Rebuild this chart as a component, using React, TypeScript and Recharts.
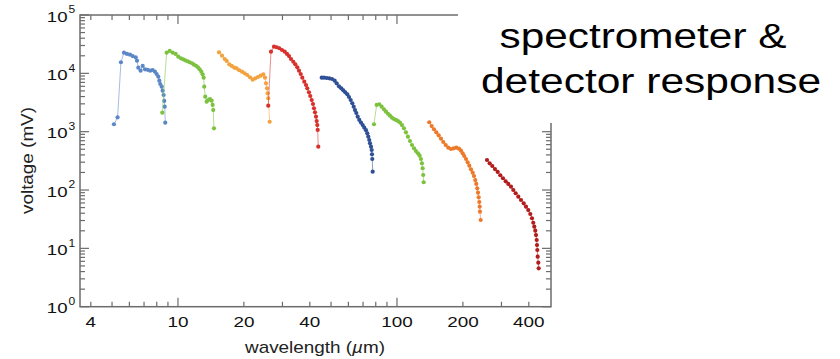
import { ScatterChart, Scatter, XAxis, YAxis } from 'recharts';

// measured response of each grating / detector band: [wavelength (µm), voltage (mV)]
const band1: [number, number][] = [
  [5.10, 1340], [5.30, 1760], [5.49, 15500], [5.67, 22600], [5.85, 21500], [6.04, 20900],
  [6.21, 19800], [6.41, 18800], [6.50, 16500], [6.59, 12500], [6.75, 11100], [6.90, 13400],
  [7.07, 11700], [7.27, 11500], [7.47, 11100], [7.66, 11400], [7.85, 10700], [7.99, 9740],
  [8.13, 8760], [8.22, 7480], [8.30, 6570], [8.43, 5900], [8.51, 5040], [8.60, 4250],
  [8.66, 3360], [8.70, 2680], [8.75, 1425],
];
const band2: [number, number][] = [
  [8.48, 2115], [8.88, 22600], [9.17, 24200], [9.46, 22600], [9.76, 21500], [10.03, 19300],
  [10.32, 18100], [10.57, 17400], [10.80, 16700], [11.07, 16100], [11.31, 15500], [11.59, 14900],
  [11.83, 14100], [12.09, 13500], [12.34, 12700], [12.56, 11700], [12.78, 10700], [12.96, 9630],
  [13.10, 8420], [13.18, 5900], [13.32, 3980], [13.52, 3270], [13.75, 3490], [14.00, 3630],
  [14.25, 3400], [14.40, 2870], [14.49, 2350], [14.60, 1140],
];
const band3: [number, number][] = [
  [15.39, 22900], [15.89, 20100], [16.34, 17600], [16.69, 16300], [17.15, 14300], [17.59, 13400],
  [18.08, 12500], [18.54, 12200], [19.05, 11300], [19.60, 10700], [20.16, 10000], [20.72, 9370],
  [21.32, 8550], [21.93, 7780], [22.54, 8220], [23.19, 8660], [23.86, 9110], [24.52, 9630],
  [24.97, 8420], [25.23, 6750], [25.50, 5540], [25.68, 4550], [25.84, 3740], [26.22, 1480],
];
const band4: [number, number][] = [
  [25.84, 2790], [26.59, 23500], [27.45, 28600], [28.24, 28000], [29.02, 26900], [29.86, 25100],
  [30.72, 23500], [31.47, 21500], [32.14, 19800], [32.81, 17600], [33.62, 15800], [34.33, 14300],
  [35.06, 12700], [35.70, 11100], [36.34, 9740], [36.96, 8420], [37.74, 7190], [38.42, 6310],
  [38.94, 5540], [39.65, 4730], [40.19, 4090], [40.79, 3490], [41.35, 2980], [41.79, 2520],
  [42.23, 2150], [42.68, 1810], [42.99, 1520], [43.26, 1300], [43.45, 1070], [43.72, 553],
];
const band5: [number, number][] = [
  [45.32, 8420], [46.42, 8420], [47.75, 8320], [49.08, 8220], [50.49, 8000], [51.94, 7480],
  [53.05, 6750], [54.35, 6000], [55.68, 5540], [56.86, 5120], [58.07, 4730], [59.31, 4370],
  [60.38, 3930], [61.47, 3490], [62.51, 3070], [63.44, 2680], [64.31, 2350], [65.20, 2090],
  [66.16, 1810], [67.29, 1590], [68.50, 1430], [69.74, 1300], [70.92, 1170], [72.19, 1060],
  [73.19, 938], [73.96, 820], [74.74, 720], [75.30, 632], [76.10, 553], [76.66, 485],
  [76.90, 410], [77.14, 340], [77.46, 206],
];
const band6: [number, number][] = [
  [78.52, 1340], [80.78, 2870], [83.02, 2950], [85.13, 2680], [87.21, 2420], [89.07, 2200],
  [90.96, 2030], [92.90, 1880], [94.88, 1740], [96.89, 1650], [98.95, 1590], [101.1, 1520],
  [103.2, 1430], [105.4, 1300], [107.6, 1140], [109.9, 976], [112.2, 820], [114.7, 692],
  [117.1, 591], [119.6, 519], [122.1, 466], [124.7, 426], [126.9, 388], [128.7, 340],
  [130.0, 287], [131.0, 236], [131.8, 181], [132.4, 136],
];
const band7: [number, number][] = [
  [140.4, 1450], [144.0, 1250], [147.5, 1100], [151.2, 976], [155.0, 867], [158.8, 758],
  [162.7, 666], [166.9, 591], [171.5, 531], [176.5, 505], [181.5, 519], [186.6, 531],
  [191.9, 511], [196.0, 472], [199.5, 426], [202.9, 383], [206.6, 340], [210.3, 299],
  [213.9, 261], [217.7, 226], [221.7, 198], [224.7, 174], [227.8, 148], [230.2, 127],
  [232.6, 107], [234.4, 90], [236.1, 75], [237.6, 62.3], [238.6, 51.8], [239.3, 42.5],
  [241.1, 30.6],
];
const band8: [number, number][] = [
  [257.6, 327], [265.0, 287], [272.4, 258], [280.2, 229], [288.3, 204], [296.3, 179],
  [304.8, 159], [313.6, 141], [322.3, 127], [331.6, 114], [339.8, 100], [348.3, 88],
  [358.1, 76.8], [368.4, 67.4], [379.0, 59.2], [388.2, 51.8], [397.7, 45.4], [406.2, 38.8],
  [413.5, 32.8], [419.2, 27.5], [423.6, 23.5], [428.1, 20.1], [431.3, 16.9], [434.5, 13.9],
  [435.9, 11.4], [437.3, 9.37], [439.1, 7.2], [441.9, 5.68], [443.7, 4.55],
];

const bands = [band1, band2, band3, band4, band5, band6, band7, band8];
const bandColors = ['#5b87c6', '#7cc23f', '#f2a23e', '#d8302b', '#2f5096', '#7cc23f', '#ec7a2a', '#b31c1c'];

const xTicks = [4, 5, 6, 7, 8, 9, 10, 20, 30, 40, 50, 60, 70, 80, 90, 100, 200, 300, 400];
const xLabels = [4, 10, 20, 40, 100, 200, 400];
const yDecades = [0, 1, 2, 3, 4, 5];
const yMinor = [2, 3, 4, 5, 6, 7, 8, 9];
const yTicks = yDecades.flatMap((e) =>
  e < 5 ? [10 ** e, ...yMinor.map((m) => m * 10 ** e)] : [10 ** e]
);

const W = 840;
const H = 359;
const LEFT = 80;
const RIGHT = 551;
const TOP = 15;
const BOTTOM = 306.7;
const AXIS = '#6c6c6c';
const FONT = '"Liberation Sans", Arial, Helvetica, sans-serif';

const isMajorX = (v: number) => v === 10 || v === 100;
const isDecade = (v: number) => Math.abs(Math.log10(v) - Math.round(Math.log10(v))) < 1e-9;

// x ticks point inward from both the bottom and the top frame edge
function XTick({ x, payload }: any) {
  const v = payload.value;
  const len = isMajorX(v) ? 9 : 5;
  return (
    <g>
      <line x1={x} x2={x} y1={BOTTOM} y2={BOTTOM - len} stroke={AXIS} strokeWidth={1.2} />
      <line x1={x} x2={x} y1={TOP} y2={TOP + len} stroke={AXIS} strokeWidth={1.2} />
      {xLabels.includes(v) && (
        <text
          transform={`translate(${x} ${BOTTOM + 20}) scale(1.22 1)`}
          textAnchor="middle"
          fontFamily={FONT}
          fontSize={15.5}
          fill="#111"
        >
          {v}
        </text>
      )}
    </g>
  );
}

// y ticks point inward from the left and right frame edges
function YTick({ y, payload }: any) {
  const v = payload.value;
  const major = isDecade(v);
  const len = major ? 9 : 5;
  return (
    <g>
      <line x1={LEFT} x2={LEFT + len} y1={y} y2={y} stroke={AXIS} strokeWidth={1.2} />
      <line x1={RIGHT} x2={RIGHT - len} y1={y} y2={y} stroke={AXIS} strokeWidth={1.2} />
      {major && (
        <g fontFamily={FONT} fill="#111">
          <text transform={`translate(67.5 ${y + 6.6}) scale(1.2 1)`} textAnchor="end" fontSize={15.5}>
            10
          </text>
          <text transform={`translate(68.6 ${y - 1.7}) scale(1.15 1)`} fontSize={10.5}>
            {Math.round(Math.log10(v))}
          </text>
        </g>
      )}
    </g>
  );
}

const Dot = (color: string) => (props: any) =>
  <circle cx={props.cx} cy={props.cy} r={2.1} fill={color} />;

export default function App() {
  return (
    <div style={{ position: 'absolute', left: 0, top: 0, width: W, height: H, background: '#fff' }}>
      <ScatterChart
        width={W}
        height={H}
        margin={{ top: TOP, right: W - RIGHT, bottom: H - BOTTOM - 40, left: 30 }}
      >
        <XAxis
          type="number"
          dataKey="w"
          scale="log"
          domain={[3.57, 505]}
          allowDataOverflow
          ticks={xTicks}
          interval={0}
          height={40}
          tickLine={false}
          tick={<XTick />}
          axisLine={false}
        />
        <YAxis
          type="number"
          dataKey="v"
          scale="log"
          domain={[1, 100000]}
          allowDataOverflow
          ticks={yTicks}
          interval={0}
          width={50}
          tickLine={false}
          tick={<YTick />}
          axisLine={false}
        />
        {bands.map((band, i) => (
          <Scatter
            key={i}
            data={band.map(([w, v]) => ({ w, v }))}
            line={{ stroke: bandColors[i], strokeWidth: 1, strokeOpacity: 0.55 }}
            lineType="joint"
            shape={Dot(bandColors[i])}
            isAnimationActive={false}
          />
        ))}
      </ScatterChart>

      <svg
        width={W}
        height={H}
        style={{ position: 'absolute', left: 0, top: 0, pointerEvents: 'none' }}
      >
        <rect
          x={LEFT}
          y={TOP}
          width={RIGHT - LEFT}
          height={BOTTOM - TOP}
          fill="none"
          stroke={AXIS}
          strokeWidth={1.5}
        />
        <text x={315} y={353} textAnchor="middle" fontFamily={FONT} fontSize={17} fill="#222" textLength={140} lengthAdjust="spacingAndGlyphs">
          wavelength (<tspan fontStyle="italic">µ</tspan>m)
        </text>
        <text
          transform="translate(33.3 160.5) rotate(-90)"
          textAnchor="middle"
          fontFamily={FONT}
          fontSize={16}
          fill="#222"
          textLength={107}
          lengthAdjust="spacingAndGlyphs"
        >
          voltage (mV)
        </text>
        <rect x={458} y={0} width={W - 458} height={123} fill="#fff" />
        <text x={499.5} y={48} fontFamily={FONT} fontSize={35} fill="#000" textLength={287} lengthAdjust="spacingAndGlyphs">
          spectrometer &amp;
        </text>
        <text x={481} y={93.3} fontFamily={FONT} fontSize={35} fill="#000" textLength={340} lengthAdjust="spacingAndGlyphs">
          detector response
        </text>
      </svg>
    </div>
  );
}
